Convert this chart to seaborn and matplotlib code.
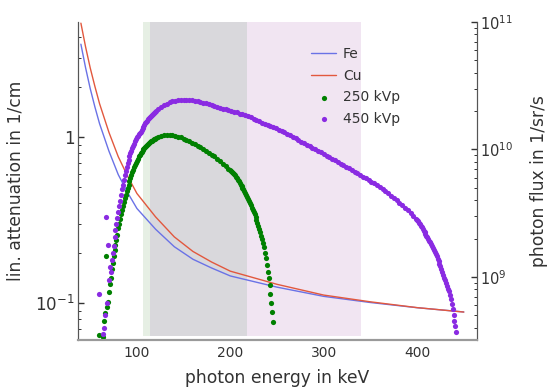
import numpy as np
import matplotlib
matplotlib.use("Agg")
import matplotlib.pyplot as plt
from matplotlib.ticker import FixedLocator, FixedFormatter, LogLocator, NullFormatter
import seaborn as sns

sns.set_theme(style="white")
plt.rcParams["font.family"] = ["DejaVu Sans"]
plt.rcParams["text.color"] = "#333333"
plt.rcParams["axes.labelcolor"] = "#333333"
plt.rcParams["xtick.color"] = "#333333"
plt.rcParams["ytick.color"] = "#333333"

# linear attenuation (1/cm)
energy_att = [40, 45, 50, 55, 60, 70, 80, 90, 100, 120, 140, 160, 180, 200, 250, 300, 350, 400, 450]
att_fe = [3.63, 2.62, 1.96, 1.52, 1.205, 0.825, 0.595, 0.464, 0.372, 0.279,
          0.219, 0.184, 0.163, 0.146, 0.125, 0.110, 0.101, 0.094, 0.0886]
att_cu = [4.86, 3.50, 2.61, 2.02, 1.59, 1.07, 0.763, 0.583, 0.458, 0.331,
          0.251, 0.205, 0.177, 0.156, 0.130, 0.112, 0.102, 0.0941, 0.0885]

# spectra, photon flux in units of 1e9 1/sr/s
energy_250 = [59] + list(range(64, 121)) + list(range(123, 200, 3)) + list(range(200, 247))
flux_250 = [0.35,
            0.34, 0.45, 0.52, 1.46, 0.58, 0.64, 0.76, 0.88, 0.98, 1.15,
            1.28, 1.45, 1.62, 1.78, 1.95, 2.15, 2.4, 2.62, 2.86, 3.1,
            3.35, 3.6, 3.88, 4.15, 4.4, 4.7, 5.0, 5.3, 5.65, 6.0,
            6.35, 6.65, 6.95, 7.25, 7.55, 7.85, 8.15, 8.45, 8.8, 9.1,
            9.35, 9.6, 9.85, 10.05, 10.3, 10.5, 10.7, 10.9, 11.1, 11.25,
            11.4, 11.55, 11.7, 11.85, 12.0, 12.1, 12.2,
            12.5, 12.7, 12.9, 13.0, 13.0, 12.95, 12.8, 12.6, 12.4, 12.15,
            11.9, 11.6, 11.3, 11.0, 10.7, 10.4, 10.1, 9.8, 9.45, 9.1,
            8.8, 8.45, 8.1, 7.75, 7.4, 7.05,
            6.85, 6.72, 6.6, 6.48, 6.36, 6.25, 6.1, 5.95, 5.8, 5.63,
            5.47, 5.3, 5.15, 5.0, 4.85, 4.7, 4.55, 4.4, 4.25, 4.1,
            3.95, 3.8, 3.65, 3.5, 3.37, 3.23, 3.1, 2.95, 2.8, 2.65,
            2.52, 2.38, 2.25, 2.11, 1.97, 1.84, 1.72, 1.55, 1.40, 1.24,
            1.10, 0.98, 0.86, 0.74, 0.63, 0.53, 0.44]

energy_450 = [59] + list(range(64, 121)) + list(range(123, 400, 3)) + list(range(400, 443))
flux_450 = [0.74,
            0.36, 0.40, 0.50, 2.97, 0.62, 1.78, 0.95, 1.2, 1.1, 1.36,
            1.55, 1.75, 2.05, 2.34, 2.6, 2.9, 3.25, 3.6, 3.95, 4.4,
            4.85, 5.3, 5.8, 6.3, 6.8, 7.3, 7.8, 8.3, 8.8, 9.3,
            9.8, 10.2, 10.7, 11.1, 11.6, 12.0, 12.4, 12.8, 13.1, 13.4,
            13.8, 14.3, 14.7, 15.1, 15.6, 16.0, 16.4, 16.8, 17.2, 17.5,
            17.9, 18.3, 18.6, 19.0, 19.3, 19.6, 19.9,
            20.75, 21.5, 22.2, 22.85, 23.35, 23.8, 24.1, 24.35, 24.5, 24.5,
            24.5, 24.45, 24.3, 24.1, 23.8, 23.5, 23.2, 22.9, 22.6, 22.2,
            21.9, 21.5, 21.2, 20.9, 20.7, 20.4, 20.1, 19.8, 19.5, 19.1,
            18.8, 18.5, 18.2, 17.8, 17.4, 17.0, 16.6, 16.2, 15.9, 15.5,
            15.2, 14.9, 14.6, 14.3, 14.0, 13.6, 13.25, 12.9, 12.55, 12.2,
            11.9, 11.5, 11.2, 10.9, 10.6, 10.3, 10.05, 9.76, 9.48, 9.2,
            8.95, 8.69, 8.44, 8.2, 7.97, 7.74, 7.51, 7.3, 7.09, 6.89,
            6.69, 6.5, 6.31, 6.12, 5.94, 5.76, 5.58, 5.41, 5.23, 5.06,
            4.88, 4.7, 4.52, 4.34, 4.16, 3.99, 3.82, 3.66, 3.49, 3.32,
            3.16, 3.0, 2.85,
            2.80, 2.73, 2.66, 2.59, 2.52, 2.45, 2.38, 2.31, 2.24, 2.17,
            2.11, 2.05, 1.99, 1.93, 1.87, 1.81, 1.75, 1.69, 1.63, 1.57,
            1.51, 1.45, 1.39, 1.33, 1.27, 1.21, 1.15, 1.10, 1.04, 0.99,
            0.94, 0.89, 0.85, 0.81, 0.77, 0.72, 0.67, 0.61, 0.56, 0.50,
            0.45, 0.41, 0.37]

# shaded energy bands (keV)
band_green = (106, 114)
band_gray = (114, 218)
band_pink = (218, 340)

fig, ax = plt.subplots(figsize=(5.5, 3.9), dpi=100)
fig.subplots_adjust(left=0.142, right=0.867, bottom=0.128, top=0.944)

ax.axvspan(*band_green, ymin=0.012, color="#e6efe4", lw=0, zorder=0)
ax.axvspan(*band_gray, ymin=0.012, color="#d9d8dc", lw=0, zorder=0)
ax.axvspan(*band_pink, ymin=0.012, color="#f1e5f2", lw=0, zorder=0)

sns.lineplot(x=energy_att, y=att_fe, ax=ax, color="#6a72e6", lw=1.0, label="Fe")
sns.lineplot(x=energy_att, y=att_cu, ax=ax, color="#e2583e", lw=1.0, label="Cu")
ax.set_yscale("log")
ax.set_xlim(37, 464)
ax.set_ylim(0.06, 4.95)
ax.set_xticks([100, 200, 300, 400])
ax.yaxis.set_major_locator(FixedLocator([0.1, 1]))
ax.yaxis.set_major_formatter(FixedFormatter([r"$10^{-1}$", "1"]))
ax.yaxis.set_minor_locator(LogLocator(subs=np.arange(2, 10)))
ax.yaxis.set_minor_formatter(NullFormatter())
ax.set_xlabel("photon energy in keV", fontsize=12.3, labelpad=7)
ax.set_ylabel("lin. attenuation in 1/cm", fontsize=12.3, labelpad=8)

ax2 = ax.twinx()
sns.scatterplot(x=energy_250, y=np.array(flux_250) * 1e9, ax=ax2, color="green",
                s=14, linewidth=0, label="250 kVp")
sns.scatterplot(x=energy_450, y=np.array(flux_450) * 1e9, ax=ax2, color="blueviolet",
                s=14, linewidth=0, label="450 kVp")
ax2.set_yscale("log")
ax2.set_ylim(3.2e8, 1e11)
ax2.yaxis.set_minor_locator(LogLocator(subs=np.arange(2, 10)))
ax2.yaxis.set_minor_formatter(NullFormatter())
ax2.set_ylabel("photon flux in 1/sr/s", fontsize=12.3, labelpad=12)

for a in (ax, ax2):
    a.tick_params(axis="both", which="major", direction="in", length=4, width=1,
                  labelsize=10, pad=2.5)
    a.tick_params(axis="y", which="minor", direction="in", length=2.5, width=0.7)
    a.spines["top"].set_visible(False)
    for side in ("left", "right"):
        a.spines[side].set_color("#555555")
        a.spines[side].set_linewidth(0.8)
    a.spines["bottom"].set_color("#9a9a9a")
    a.spines["bottom"].set_linewidth(1.5)
ax.tick_params(axis="x", length=6, width=1.3, pad=4)
ax.tick_params(axis="y", labelsize=12)
ax2.tick_params(axis="y", labelsize=10.5)

h1, l1 = ax.get_legend_handles_labels()
h2, l2 = ax2.get_legend_handles_labels()
ax.get_legend().remove()
ax2.legend(h1 + h2, l1 + l2, loc="upper left", bbox_to_anchor=(0.553, 0.96),
           frameon=False, fontsize=10, handlelength=1.8, labelspacing=0.55,
           handletextpad=0.5)

fig.savefig("out.png", dpi=100)
